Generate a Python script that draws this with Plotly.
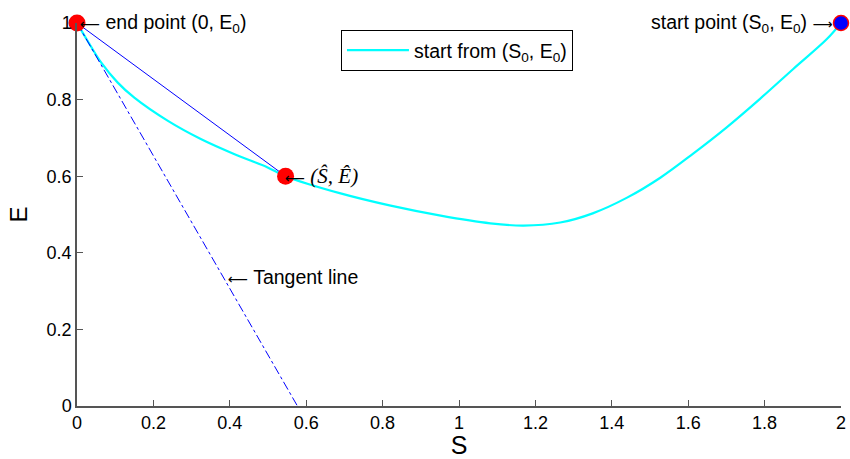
import plotly.graph_objects as go

# Data
S_curve = [0.0, 0.028, 0.063, 0.106, 0.15, 0.237, 0.324, 0.411, 0.499, 0.546, 0.69, 0.821,
           0.952, 1.082, 1.169, 1.265, 1.35, 1.44, 1.527, 1.613, 1.70, 1.788, 1.875, 1.963, 2.0]
E_curve = [1.0, 0.953, 0.897, 0.845, 0.805, 0.745, 0.697, 0.658, 0.623, 0.6, 0.555, 0.523,
           0.497, 0.477, 0.471, 0.479, 0.503, 0.544, 0.596, 0.659, 0.727, 0.802, 0.88, 0.958, 1.0]
chord_S = [0.0, 0.546]
chord_E = [1.0, 0.6]
tangent_S = [0.0, 0.577]
tangent_E = [1.0, 0.0]
red_pts_S = [0.0, 0.546]
red_pts_E = [1.0, 0.6]
start_S = [2.0]
start_E = [1.0]
x_ticks = [0, 0.2, 0.4, 0.6, 0.8, 1, 1.2, 1.4, 1.6, 1.8, 2]
x_tick_labels = ["0", "0.2", "0.4", "0.6", "0.8", "1", "1.2", "1.4", "1.6", "1.8", "2"]
y_ticks = [0, 0.2, 0.4, 0.6, 0.8, 1]
y_tick_labels = ["0", "0.2", "0.4", "0.6", "0.8", "1"]

FONT = "Liberation Sans, Arial, Helvetica, sans-serif"
ARROW_L = '<span style="font-family:DejaVu Sans;font-size:14px;">\u27F5</span>'
ARROW_R = '<span style="font-family:DejaVu Sans;font-size:14px;">\u27F6</span>'

fig = go.Figure()
fig.add_trace(go.Scatter(x=S_curve, y=E_curve, mode="lines", line=dict(color="#00FFFF", width=2.2, shape="spline"),
                         name="start from (S<sub>0</sub>, E<sub>0</sub>)", cliponaxis=False))
fig.add_trace(go.Scatter(x=chord_S, y=chord_E, mode="lines", line=dict(color="#0000FF", width=1),
                         showlegend=False, cliponaxis=False))
fig.add_trace(go.Scatter(x=tangent_S, y=tangent_E, mode="lines", line=dict(color="#0000FF", width=1, dash="dashdot"),
                         showlegend=False, cliponaxis=False))
fig.add_trace(go.Scatter(x=red_pts_S, y=red_pts_E, mode="markers",
                         marker=dict(color="#FF0000", size=17, line=dict(width=0)),
                         showlegend=False, cliponaxis=False))
fig.add_trace(go.Scatter(x=start_S, y=start_E, mode="markers",
                         marker=dict(color="#0000FF", size=15, line=dict(color="#FF0000", width=1.5)),
                         showlegend=False, cliponaxis=False))

ann_font = dict(family=FONT, size=19.5, color="black")
fig.add_annotation(x=0, y=1, xref="x", yref="y", text=ARROW_L + " end point (0, E<sub>0</sub>)",
                   showarrow=False, xanchor="left", yanchor="middle", xshift=1, font=ann_font)
fig.add_annotation(x=2, y=1, xref="x", yref="y", text="start point (S<sub>0</sub>, E<sub>0</sub>) " + ARROW_R,
                   showarrow=False, xanchor="right", yanchor="middle", xshift=-6, font=ann_font)
fig.add_annotation(x=0.546, y=0.6, xref="x", yref="y", text=ARROW_L + " <i>(\u015C, \u00CA)</i>",
                   showarrow=False, xanchor="left", yanchor="middle", xshift=-3,
                   font=dict(family="Liberation Serif, Times New Roman, serif", size=21, color="black"))
fig.add_annotation(x=0.4, y=0.336, xref="x", yref="y", text=ARROW_L + " Tangent line",
                   showarrow=False, xanchor="left", yanchor="middle", xshift=-4, font=ann_font)

axis_common = dict(showline=True, linecolor="#555555", linewidth=1.5, ticks="inside", ticklen=6,
                   tickcolor="#555555", tickwidth=1, showgrid=False, zeroline=False, automargin=False,
                   tickfont=dict(family=FONT, size=18, color="black"), mirror=False)
fig.update_xaxes(range=[0, 2], tickvals=x_ticks, ticktext=x_tick_labels,
                 title=dict(text="S", font=dict(family=FONT, size=25, color="black"), standoff=10),
                 **axis_common)
fig.update_yaxes(range=[0, 1], tickvals=y_ticks, ticktext=y_tick_labels,
                 title=dict(text="E", font=dict(family=FONT, size=24, color="black"), standoff=12),
                 **axis_common)

fig.update_layout(
    width=850, height=459,
    margin=dict(l=77, r=9, t=23, b=53),
    paper_bgcolor="white", plot_bgcolor="white",
    legend=dict(x=0.3455, y=0.982, xanchor="left", yanchor="top", bordercolor="black", borderwidth=1,
                bgcolor="white", font=dict(family=FONT, size=19.5, color="black"), itemwidth=62),
    showlegend=True,
)

fig.write_html("out.html", config={"displayModeBar": False},
               post_script="document.body.style.margin='0px';document.body.style.overflow='hidden';")
